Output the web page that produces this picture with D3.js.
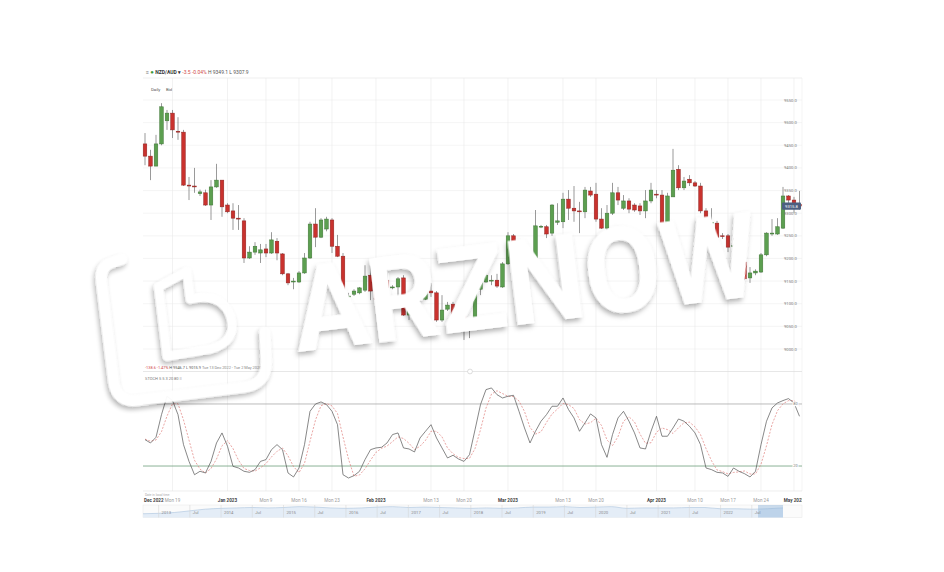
<!DOCTYPE html>
<html><head><meta charset="utf-8">
<script src="https://cdn.jsdelivr.net/npm/d3@7"></script>
<style>body{margin:0;background:#fff}svg{display:block}text{font-family:Roboto,"Liberation Sans",Arial,sans-serif}</style>
</head><body><svg id="c" width="944" height="572"></svg>
<script>
// ---- data ----
const dates = [
"2022-12-13","2022-12-14","2022-12-15","2022-12-16","2022-12-18","2022-12-19","2022-12-20","2022-12-21","2022-12-22","2022-12-23",
"2022-12-26","2022-12-27","2022-12-28","2022-12-29","2022-12-30","2023-01-01","2023-01-02","2023-01-03","2023-01-04","2023-01-05",
"2023-01-06","2023-01-08","2023-01-09","2023-01-10","2023-01-11","2023-01-12","2023-01-13","2023-01-15","2023-01-16","2023-01-17",
"2023-01-18","2023-01-19","2023-01-20","2023-01-22","2023-01-23","2023-01-24","2023-01-25","2023-01-26","2023-01-27","2023-01-29",
"2023-01-30","2023-01-31","2023-02-01","2023-02-02","2023-02-03","2023-02-05","2023-02-06","2023-02-07","2023-02-08","2023-02-09",
"2023-02-10","2023-02-12","2023-02-13","2023-02-14","2023-02-15","2023-02-16","2023-02-17","2023-02-19","2023-02-20","2023-02-21",
"2023-02-22","2023-02-23","2023-02-24","2023-02-26","2023-02-27","2023-02-28","2023-03-01","2023-03-02","2023-03-03","2023-03-05",
"2023-03-06","2023-03-07","2023-03-08","2023-03-09","2023-03-10","2023-03-12","2023-03-13","2023-03-14","2023-03-15","2023-03-16",
"2023-03-17","2023-03-19","2023-03-20","2023-03-21","2023-03-22","2023-03-23","2023-03-24","2023-03-26","2023-03-27","2023-03-28",
"2023-03-29","2023-03-30","2023-03-31","2023-04-02","2023-04-03","2023-04-04","2023-04-05","2023-04-06","2023-04-07","2023-04-09",
"2023-04-10","2023-04-11","2023-04-12","2023-04-13","2023-04-14","2023-04-16","2023-04-17","2023-04-18","2023-04-19","2023-04-20",
"2023-04-21","2023-04-23","2023-04-24","2023-04-25","2023-04-26","2023-04-27","2023-04-28","2023-04-30","2023-05-01","2023-05-02"];

const opens = [9453,9426,9404,9453,9504,9521,9481,9479,9362,9360,9343,9345,9318,9358,9373,9318,9305,9289,9283,9201,
9214,9212,9221,9212,9238,9210,9166,9148,9148,9168,9201,9276,9247,9265,9285,9227,9205,9115,9121,9124,
9130,9163,9128,9110,9152,9135,9137,9157,9075,9110,9113,9110,9128,9124,9064,9088,9099,9071,9075,9051,
9053,9132,9148,9150,9152,9137,9188,9250,9234,9205,9188,9201,9270,9270,9256,9280,9281,9331,9311,9305,
9303,9349,9342,9287,9267,9300,9345,9311,9327,9318,9316,9305,9327,9342,9340,9274,9336,9397,9356,9375,
9367,9360,9305,9278,9278,9250,9250,9227,9225,9192,9157,9168,9170,9208,9254,9254,9267,9338,9329,9319.3];
const highs = [9477,9440,9473,9543,9528,9528,9512,9484,9380,9400,9352,9352,9373,9409,9373,9322,9322,9318,9289,9227,
9236,9232,9232,9258,9245,9212,9168,9157,9172,9212,9281,9311,9289,9292,9289,9252,9212,9124,9132,9137,
9185,9185,9146,9152,9179,9141,9159,9163,9113,9119,9124,9130,9146,9128,9119,9104,9104,9077,9080,9064,
9135,9163,9170,9163,9166,9192,9258,9254,9236,9210,9207,9307,9274,9274,9320,9322,9345,9351,9360,9325,
9358,9358,9367,9311,9318,9367,9358,9340,9333,9322,9322,9351,9367,9351,9351,9345,9442,9406,9380,9384,
9371,9367,9311,9311,9283,9256,9254,9245,9247,9194,9181,9176,9212,9258,9287,9289,9358,9340,9336,9349.1];
const lows = [9406,9373,9404,9450,9484,9466,9462,9360,9329,9345,9338,9316,9285,9356,9292,9300,9263,9263,9190,9199,
9208,9190,9203,9210,9196,9163,9141,9132,9146,9166,9199,9225,9245,9260,9212,9203,9110,9101,9117,9121,
9126,9108,9093,9108,9115,9132,9113,9073,9064,9104,9104,9108,9115,9060,9060,9084,9066,9060,9020,9024,
9051,9119,9146,9141,9135,9135,9186,9223,9186,9183,9183,9196,9267,9245,9250,9274,9267,9285,9281,9256,
9289,9336,9281,9265,9252,9296,9318,9307,9300,9303,9296,9289,9322,9333,9267,9272,9336,9351,9351,9360,
9358,9300,9269,9245,9243,9243,9214,9201,9190,9152,9146,9163,9168,9205,9250,9252,9265,9322,9300,9307.9];
const closes = [9426,9404,9453,9535,9521,9484,9479,9362,9360,9358,9347,9318,9358,9373,9314,9303,9289,9287,9201,9214,
9227,9219,9212,9241,9212,9166,9146,9150,9168,9201,9276,9247,9285,9287,9227,9205,9115,9117,9128,9135,
9161,9128,9110,9152,9135,9137,9155,9075,9110,9113,9115,9126,9124,9064,9086,9097,9071,9070,9051,9057,
9132,9148,9163,9152,9139,9188,9250,9234,9186,9190,9203,9272,9271,9254,9318,9283,9331,9311,9305,9303,
9351,9340,9287,9267,9300,9345,9329,9327,9309,9307,9305,9327,9351,9340,9276,9338,9395,9356,9371,9367,
9360,9305,9276,9280,9247,9249,9225,9228,9192,9155,9168,9172,9208,9256,9256,9270,9338,9329,9319,9315.8];

const stochK = [45.5,42.3,47.8,69.7,87.5,83.3,69.7,40.7,24.5,11.6,14.9,13.3,24.5,42.3,52,39.1,19.7,18.1,14.9,13.9,
16.5,24.5,26.2,35.8,40.7,35.8,13.3,9.4,18.1,40.7,72.9,80,82,79.4,72.9,60,11.6,8.4,10.7,14.9,
26.2,35.8,37.5,38.1,42.3,50.4,52,37.5,36.5,33.6,47.1,53.6,60,47.1,37.5,27.8,30.4,26.8,24.5,31,
55,79.4,93.9,95.5,89,85.8,87.5,88.4,72.9,56.8,42.3,53.6,63.3,69.7,77.8,77.8,85.8,74.6,66.5,53.6,
61.7,70.4,66.5,40.7,28.4,50.4,66.5,72.9,63.3,52,37.5,36.5,53.6,68.1,48.8,48.8,56.8,65.5,63.3,58.4,
52,40.7,18.1,16.5,13.9,13.3,10,18.1,14.9,12.6,9.4,14.9,40.7,63.3,76.2,81,83.3,85.2,81,68.1];
const stochD = [46,44,45.2,53.3,68.3,80.2,80.2,64.6,45,25.6,17,13.3,17.6,26.7,39.6,44.5,36.9,25.6,17.6,15.6,
15.1,18.3,22.4,28.8,34.2,37.4,29.9,19.5,13.6,22.7,43.9,64.5,78.3,80.5,78.1,70.8,48.2,26.7,10.2,11.3,
17.3,25.6,33.2,37.1,39.3,43.6,48.2,46.6,42,35.9,39.1,44.8,53.6,53.6,48.2,37.5,31.9,28.3,27.2,27.4,
36.8,55.1,76.1,89.6,92.8,90.1,87.4,87.2,82.9,72.7,57.3,50.9,53.1,62.2,70.3,75.1,80.5,79.4,75.6,64.9,
60.6,61.9,66.2,59.2,45.2,39.8,48.4,63.3,67.6,62.7,50.9,42,42.5,52.7,56.8,55.2,51.5,57,61.9,62.4,
57.9,50.4,36.9,25.1,16.2,14.6,12.4,13.8,14.3,15.2,12.3,12.3,21.7,39.6,60.1,73.5,80.2,83.2,83.2,78.1];

const priceTicks = [9000,9050,9100,9150,9200,9250,9300,9350,9400,9450,9500,9550];
const stochLevels = [20,80];
const timeTickDates = ["2022-12-19","2023-01-01","2023-01-09","2023-01-16","2023-01-23","2023-02-01","2023-02-13","2023-02-20",
  "2023-03-01","2023-03-13","2023-03-20","2023-04-02","2023-04-10","2023-04-17","2023-04-24","2023-05-01"];
const timeTickLabels = ["Mon 19","Jan 2023","Mon 9","Mon 16","Mon 23","Feb 2023","Mon 13","Mon 20",
  "Mar 2023","Mon 13","Mon 20","Apr 2023","Mon 10","Mon 17","Mon 24","May 2023"];
const startLabel = "Dec 2022";

const navYears = [2012.75,2013,2013.25,2013.5,2013.75,2014,2014.25,2014.5,2014.75,2015,2015.25,2015.5,2015.75,2016,2016.25,2016.5,2016.75,
 2017,2017.25,2017.5,2017.75,2018,2018.25,2018.5,2018.75,2019,2019.25,2019.5,2019.75,2020,2020.25,2020.5,2020.75,2021,2021.25,2021.5,2021.75,
 2022,2022.25,2022.5,2022.75,2023];
const navValues = [0.79,0.80,0.82,0.86,0.90,0.92,0.93,0.94,0.93,0.94,0.96,0.95,0.93,0.92,0.93,0.95,0.96,
 0.94,0.95,0.94,0.93,0.92,0.93,0.92,0.93,0.95,0.95,0.96,0.94,0.95,0.96,0.92,0.93,0.93,0.93,0.94,0.94,
 0.91,0.91,0.90,0.91,0.93];
const navTickYears = [2013,2013.5,2014,2014.5,2015,2015.5,2016,2016.5,2017,2017.5,2018,2018.5,2019,2019.5,2020,2020.5,2021,2021.5,2022,2022.5];
const navTickLabels = ["2013","Jul","2014","Jul","2015","Jul","2016","Jul","2017","Jul","2018","Jul","2019","Jul","2020","Jul","2021","Jul","2022","Jul"];
const navSelection = [2022.6, 2023.0];

const lastPrice = 9315.8;

// ---- layout ----
const L = 143, R = 802;
const svg = d3.select("#c");
const defs = svg.append("defs");
const f = defs.append("filter").attr("id","wm").attr("x","-30%").attr("y","-30%").attr("width","160%").attr("height","160%");
f.append("feDropShadow").attr("dx",-2).attr("dy",3).attr("stdDeviation",2.5).attr("flood-color","#000").attr("flood-opacity",0.3);
defs.append("clipPath").attr("id","clipR").append("rect").attr("x",L).attr("y",0).attr("width",R-L).attr("height",572);

const x = d3.scalePoint().domain(dates).range([145, 799.5]);
const y = d3.scaleLinear().domain([9000,9550]).range([349,100]);
const ys = d3.scaleLinear().domain([0,100]).range([486.7,383.3]);

// header
svg.append("line").attr("x1",L).attr("x2",R).attr("y1",78).attr("y2",78).attr("stroke","#e4e4e4").attr("stroke-width",0.6);
const hdr = svg.append("text").attr("x",146).attr("y",74).attr("font-size",5);
hdr.append("tspan").attr("fill","#777").text("≡ ");
hdr.append("tspan").attr("fill","#3c9a3c").attr("font-size",6).text("● ");
hdr.append("tspan").attr("fill","#333").attr("font-weight","bold").text("NZD/AUD ▾ ");
hdr.append("tspan").attr("fill","#d24a4a").text("-3.5 -0.04% ");
hdr.append("tspan").attr("fill","#555").text("H 9349.1 L 9307.9");
svg.append("text").attr("x",151).attr("y",90.5).attr("font-size",4.3).attr("fill","#555").text("Daily");
svg.append("text").attr("x",166).attr("y",90.5).attr("font-size",4.3).attr("fill","#555").text("Bid");

// grids
const g = svg.append("g");
g.selectAll(".hg").data(priceTicks).join("line")
  .attr("x1",L).attr("x2",R).attr("y1",d=>y(d)).attr("y2",d=>y(d)).attr("stroke","#efefef").attr("stroke-width",0.6);
g.selectAll(".vg").data(timeTickDates).join("line")
  .attr("x1",d=>x(d)).attr("x2",d=>x(d)).attr("y1",78).attr("y2",491).attr("stroke","#e9e9e9").attr("stroke-width",0.6);
svg.append("line").attr("x1",R).attr("x2",R).attr("y1",78).attr("y2",491).attr("stroke","#eeeeee").attr("stroke-width",0.6);

// candles
const idx = d3.range(dates.length);
const cw = 3.6;
const cg = svg.append("g");
cg.selectAll(".wick").data(idx).join("line")
  .attr("x1",i=>x(dates[i])).attr("x2",i=>x(dates[i]))
  .attr("y1",i=>y(highs[i])).attr("y2",i=>y(lows[i])).attr("stroke","#555").attr("stroke-width",0.6);
cg.selectAll(".body").data(idx).join("rect")
  .attr("x",i=>x(dates[i])-cw/2).attr("width",cw)
  .attr("y",i=>y(Math.max(opens[i],closes[i])))
  .attr("height",i=>Math.max(0.8, Math.abs(y(opens[i])-y(closes[i]))))
  .attr("fill",i=>closes[i]>=opens[i]?"#5c9f50":"#c9322e")
  .attr("stroke",i=>closes[i]>=opens[i]?"#3d7434":"#8f2220").attr("stroke-width",0.5);

// price labels
const tagY = y(lastPrice);
svg.selectAll(".pl").data(priceTicks.filter(t=>Math.abs(y(t)-tagY)>6)).join("text")
  .attr("x",784).attr("y",d=>y(d)+1.5).attr("font-size",4.2).attr("fill","#777").text(d=>d.toFixed(1));
svg.append("rect").attr("x",782).attr("y",tagY-3.6).attr("width",19).attr("height",7.2).attr("rx",0.8).attr("fill","#4d5f80");
svg.append("text").attr("x",791.5).attr("y",tagY+1.5).attr("text-anchor","middle").attr("font-size",4.2).attr("fill","#fff").text(lastPrice.toFixed(1));

// divider
svg.append("line").attr("x1",L).attr("x2",R).attr("y1",371.5).attr("y2",371.5).attr("stroke","#dddddd").attr("stroke-width",0.7);
svg.append("circle").attr("cx",470).attr("cy",371.5).attr("r",2.4).attr("fill","#fff").attr("stroke","#c8c8c8").attr("stroke-width",0.6);
const info = svg.append("text").attr("x",145).attr("y",368.5).attr("font-size",3.9);
info.append("tspan").attr("fill","#d24a4a").text("-138.6  -1.47%  ");
info.append("tspan").attr("fill","#555").text("H 9546.7  L 9015.9  ");
info.append("tspan").attr("fill","#888").text("Tue 13 Dec 2022 - Tue 2 May 2023");
svg.append("text").attr("x",145).attr("y",380).attr("font-size",4).attr("fill","#777").text("STOCH  5  5  3  20  80  ≡");

// stochastic
svg.selectAll(".sl").data(stochLevels).join("line")
  .attr("x1",L).attr("x2",R).attr("y1",d=>ys(d)).attr("y2",d=>ys(d))
  .attr("stroke",d=>d===20?"#6f9e7c":"#a9a9a9").attr("stroke-width",0.8);
svg.append("path").attr("d",d3.line().x((d,i)=>x(dates[i])).y(d=>ys(d))(stochD))
  .attr("fill","none").attr("stroke","#e0807c").attr("stroke-width",0.7).attr("stroke-dasharray","2,1.5");
svg.append("path").attr("d",d3.line().x((d,i)=>x(dates[i])).y(d=>ys(d))(stochK))
  .attr("fill","none").attr("stroke","#555").attr("stroke-width",0.7);
svg.selectAll(".slb").data(stochLevels).join("rect")
  .attr("x",792.5).attr("y",d=>ys(d)-2.3).attr("width",6).attr("height",4.6).attr("fill","#fff");
svg.selectAll(".slt").data(stochLevels).join("text")
  .attr("x",795.5).attr("y",d=>ys(d)+1.4).attr("text-anchor","middle").attr("font-size",3.8).attr("fill","#777").text(d=>d);

// time axis
svg.append("line").attr("x1",L).attr("x2",R).attr("y1",491).attr("y2",491).attr("stroke","#e2e2e2").attr("stroke-width",0.6);
svg.append("text").attr("x",145).attr("y",495.5).attr("font-size",3.2).attr("fill","#aaa").text("Date in local time");
const ax = svg.append("g").attr("clip-path","url(#clipR)");
ax.append("text").attr("x",144).attr("y",502).attr("font-size",4.6).attr("font-weight","bold").attr("fill","#444").text(startLabel);
ax.selectAll(".tl").data(timeTickDates).join("text")
  .attr("x",d=>x(d)).attr("y",502).attr("text-anchor","middle")
  .attr("font-size",4.6)
  .attr("font-weight",(d,i)=>timeTickLabels[i].startsWith("Mon")?"normal":"bold")
  .attr("fill",(d,i)=>timeTickLabels[i].startsWith("Mon")?"#9a9a9a":"#444")
  .text((d,i)=>timeTickLabels[i]);

// navigator
const nx = d3.scaleLinear().domain([2012.75, 2023.0]).range([L, 783]);
const ny = d3.scaleLinear().domain([0.70, 1.0]).range([517.5, 505]);
svg.append("rect").attr("x",L).attr("y",505).attr("width",R-L).attr("height",12.5).attr("fill","#fbfbfb").attr("stroke","#e6e6e6").attr("stroke-width",0.5);
svg.append("path").attr("d",d3.area().x((d,i)=>nx(navYears[i])).y0(517.5).y1(d=>ny(d)).curve(d3.curveMonotoneX)(navValues))
  .attr("fill","#e4edf7");
svg.append("path").attr("d",d3.line().x((d,i)=>nx(navYears[i])).y(d=>ny(d)).curve(d3.curveMonotoneX)(navValues))
  .attr("fill","none").attr("stroke","#a9c2dd").attr("stroke-width",0.6);
svg.append("rect").attr("x",nx(navSelection[0])).attr("y",505).attr("width",nx(navSelection[1])-nx(navSelection[0])).attr("height",12.5)
  .attr("fill","#8fb3da").attr("opacity",0.45);
svg.selectAll(".nt").data(navTickYears).join("line")
  .attr("x1",d=>nx(d)).attr("x2",d=>nx(d)).attr("y1",505).attr("y2",517.5).attr("stroke","#d2d2d2").attr("stroke-width",0.5);
svg.selectAll(".ntl").data(navTickYears).join("text")
  .attr("x",d=>Math.max(nx(d)+3,148)).attr("y",514).attr("font-size",4.2).attr("fill","#888").text((d,i)=>navTickLabels[i]);

// watermark logo
const lg = svg.append("g").attr("transform","translate(185,322) rotate(-7)").attr("filter","url(#wm)").attr("opacity",0.96);
lg.append("path").attr("d","M -55 -70 L -65 -68 Q -78 -66 -78 -50 L -78 50 Q -78 72 -56 72 L 50 72 Q 74 72 76 48 L 78 20")
  .attr("fill","none").attr("stroke","#fff").attr("stroke-width",11).attr("stroke-linecap","round");
lg.append("path").attr("d","M -22 -38 L 8 -50 L 8 -22 Q 40 -26 46 0 Q 50 26 22 30 L -22 32 Z")
  .attr("fill","none").attr("stroke","#fff").attr("stroke-width",9).attr("stroke-linejoin","round");

// watermark text
svg.append("g").attr("transform","translate(298,352) rotate(-7)")
  .append("text").attr("x",0).attr("y",0)
  .attr("font-family","'DejaVu Sans', sans-serif").attr("font-weight","bold").attr("font-size",118)
  .attr("textLength",468).attr("lengthAdjust","spacingAndGlyphs")
  .attr("fill","#fff").attr("filter","url(#wm)").text("ARZNOW");
</script></body></html>
